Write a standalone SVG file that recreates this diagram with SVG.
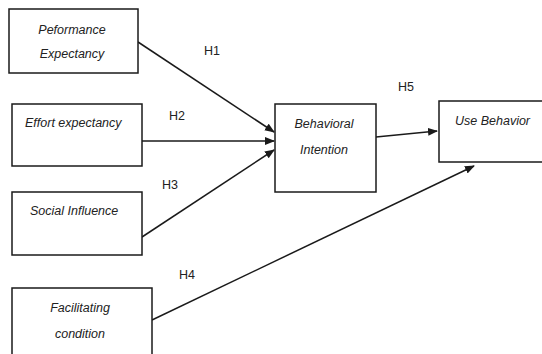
<svg xmlns="http://www.w3.org/2000/svg" width="542" height="354" viewBox="0 0 542 354">
<style>
.box{fill:#fff;stroke:#1a1a1a;stroke-width:1.5}
.t{font-family:"Liberation Sans",Arial,sans-serif;font-style:italic;font-size:12.5px;fill:#222}
.h{font-family:"Liberation Sans",Arial,sans-serif;font-size:12.5px;fill:#222;text-anchor:middle}
.c{stroke:#1a1a1a;stroke-width:1.5;fill:none;marker-end:url(#ah)}
</style>
<defs>
<marker id="ah" markerWidth="10" markerHeight="8" refX="9" refY="4" orient="auto" markerUnits="userSpaceOnUse">
<path d="M0,0 L10,4 L0,8 Z" fill="#1a1a1a"/>
</marker>
</defs>
<rect width="542" height="354" fill="#fff"/>
<g id="connectors">
<line class="c" x1="138" y1="42" x2="274" y2="132"/>
<line class="c" x1="142" y1="141" x2="274" y2="141"/>
<line class="c" x1="142" y1="237" x2="274" y2="150"/>
<line class="c" x1="376" y1="137" x2="437" y2="131"/>
<line class="c" x1="152" y1="320" x2="474" y2="166"/>
<text class="h" x="212" y="55">H1</text>
<text class="h" x="177" y="120">H2</text>
<text class="h" x="170" y="189">H3</text>
<text class="h" x="187" y="279">H4</text>
<text class="h" x="406" y="91">H5</text>
</g>
<g id="performance-expectancy">
<rect class="box" x="9" y="9" width="129" height="64"/>
<text class="t" x="72" y="34" text-anchor="middle">Peformance</text>
<text class="t" x="72" y="58" text-anchor="middle">Expectancy</text>
</g>
<g id="effort-expectancy">
<rect class="box" x="12" y="104" width="130" height="62"/>
<text class="t" x="25" y="127">Effort expectancy</text>
</g>
<g id="social-influence">
<rect class="box" x="12" y="192" width="130" height="63"/>
<text class="t" x="30" y="215">Social Influence</text>
</g>
<g id="facilitating-condition">
<rect class="box" x="12" y="288" width="140" height="70"/>
<text class="t" x="80" y="312" text-anchor="middle">Facilitating</text>
<text class="t" x="80" y="338" text-anchor="middle">condition</text>
</g>
<g id="behavioral-intention">
<rect class="box" x="275" y="104" width="101" height="88"/>
<text class="t" x="324" y="128" text-anchor="middle">Behavioral</text>
<text class="t" x="324" y="154" text-anchor="middle">Intention</text>
</g>
<g id="use-behavior">
<rect class="box" x="439" y="101" width="110" height="61"/>
<text class="t" x="455" y="125">Use Behavior</text>
</g>
</svg>
